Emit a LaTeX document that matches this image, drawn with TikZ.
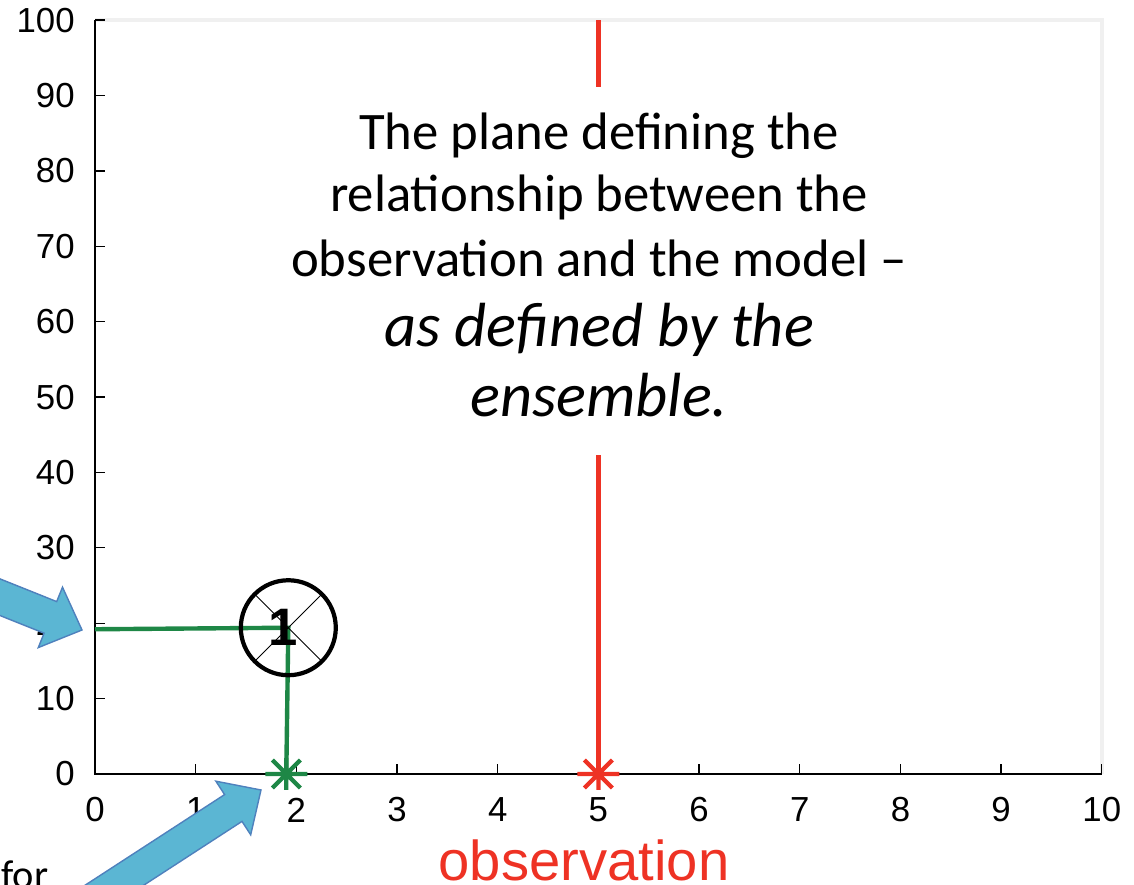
\documentclass[tikz,border=0pt]{standalone}
\usepackage{fontspec}
\newfontfamily\calib{Carlito}
\newfontfamily\helv{Liberation Sans}
\definecolor{obsred}{RGB}{238,50,36}
\definecolor{ensgreen}{RGB}{30,135,70}
\definecolor{arrowfill}{RGB}{91,182,211}
\definecolor{arrowedge}{RGB}{79,129,189}
\definecolor{boxgray}{RGB}{240,240,240}
\tikzset{starmark/.pic={\draw[line cap=butt] (-0.42cm,0) -- (0.42cm,0) (0,-0.32cm) -- (0,0.32cm)
  (-0.28cm,-0.28cm) -- (0.28cm,0.28cm) (-0.28cm,0.28cm) -- (0.28cm,-0.28cm);}}

\begin{document}
\begin{tikzpicture}[x=0.02cm,y=0.02cm,
  ticklbl/.style={font=\helv\fontsize{19.8}{22}\selectfont,inner sep=0pt},
  bigarrow/.style={fill=arrowfill,draw=arrowedge,line width=0.8pt,line join=miter},
  capup/.style={font=\calib\fontsize{30}{36}\selectfont,anchor=base,inner sep=0pt},
  capit/.style={font=\calib\itshape\fontsize{35.5}{42}\selectfont,anchor=base,inner sep=0pt}]
\useasboundingbox (0,0) rectangle (1134,885);
\clip (0,0) rectangle (1134,885);
% ---- plot area: origin at (95,111) px, unit x = 100.7 px, unit y = 7.54 px ----
\begin{scope}[shift={(95,111)},x=2.014cm,y=0.1508cm]
% ---- frame and axes ----
\draw[boxgray,line width=2.6pt] (0,100) -- (10,100) -- (10,0);
\draw[line width=0.75pt] (0,100) -- (0,0) -- (10,0);
\foreach \yy in {0,10,...,100} {
  \draw[line width=0.75pt] (0,\yy) -- ++(0.2cm,0);
  \node[ticklbl,anchor=east,xshift=-0.4cm] (ylbl\yy) at (0,\yy) {\yy};
}
\foreach \xx in {0,...,10} {
  \draw[line width=0.75pt] (\xx,0) -- ++(0,0.2cm);
  \node[ticklbl,yshift=-0.72cm] (xlbl\xx) at (\xx,0) {\xx};
}
% ---- observation plane ----
\coordinate (obs) at (5,0);
\coordinate (obstop) at (5,100);
\draw[obsred,line width=2.6pt] (obstop) -- (5,91.1) (5,42.3) -- (obs);
% ---- ensemble member projected on both axes ----
\coordinate (ensy) at (0,19.2);
\coordinate (ensx) at (1.9,0);
\draw[ensgreen,line width=2.5pt] (ensy) -- (1.92,19.4) -- (ensx);
\node[draw,circle,line width=2.4pt,minimum size=1.9cm,inner sep=0pt,outer sep=0pt] (mem) at (1.92,19.4) {};
\draw[line width=0.5pt] (mem.north west) -- (mem.south east) (mem.north east) -- (mem.south west);
\node[font=\helv\bfseries\fontsize{30}{34}\selectfont,inner sep=0pt,xshift=-0.1cm] (memlbl) at (mem.center) {1};
\pic[ensgreen,line width=2.4pt] at (ensx) {starmark};
\pic[obsred,line width=2.4pt] at (obs) {starmark};
\end{scope}
% ---- caption in the plot ----
\node[capup] (cap1) at (599,735) {The plane defining the};
\node[capup] (cap2) at (599,673) {relationship between the};
\node[capup] (cap3) at (599,608) {observation and the model –};
\node[capit] (cap4) at (599,538) {as defined by the};
\node[capit] (cap5) at (599,468) {ensemble.};
% ---- labels at the edges ----
\node[font=\helv\fontsize{32}{38}\selectfont,text=obsred,anchor=base,inner sep=0pt] (obslbl) at (584,4) {observation};
\node[font=\calib\fontsize{23}{28}\selectfont,anchor=base west,inner sep=0pt] (forlbl) at (1,-4) {for};
% ---- block arrows ----
\draw[bigarrow] (82,255) -- (62.5,297.8) -- (56.7,283.4) -- (-82.5,339.1) -- (-95.1,307.5) -- (44.1,251.8) -- (38.3,237.4) -- cycle;
\draw[bigarrow] (261,95) -- (215.9,103.8) -- (224.6,90.4) -- (14.8,-45.9) -- (32.2,-72.7) -- (242,63.6) -- (250.7,50.2) -- cycle;
\end{tikzpicture}
\end{document}
